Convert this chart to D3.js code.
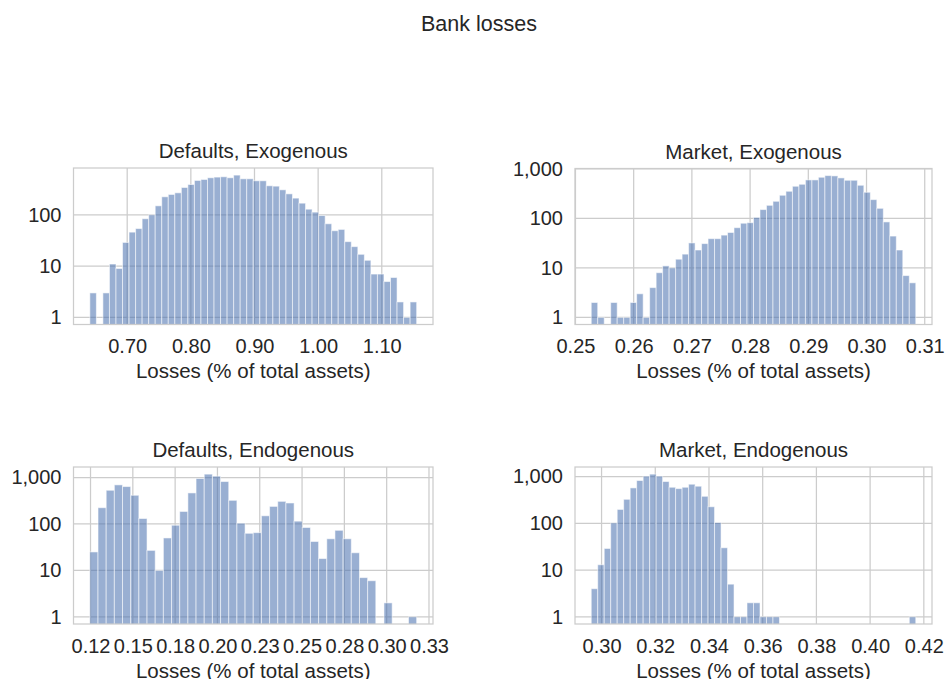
<!DOCTYPE html>
<html>
<head>
<meta charset="utf-8">
<script src="https://cdn.jsdelivr.net/npm/d3@7"></script>
<style>
  body { margin: 0; background: #fff; }
  text { font-family: "Liberation Sans", Arial, sans-serif; fill: #262626; }
</style>
</head>
<body>
<svg id="chart" width="947" height="679"></svg>
<script>
// ---------- data (histogram counts per bin) ----------
const defExoStart = 0.6413, defExoWidth = 0.01027;
const defExoCounts = [3,0,3,11,9,29,46,54,84,100,150,225,250,269,342,391,469,490,529,545,
  553,529,596,505,505,462,462,369,363,308,257,212,169,129,113,97,67,49,52,30,
  24,17,13,7,7,5,6,2,1,2];

const mktExoStart = 0.25271, mktExoWidth = 0.001115;
const mktExoCounts = [2,1,0,2,1,1,2,3,1,4,8,11,10,15,19,32,23,31,39,39,
  46,52,65,80,82,105,151,184,222,294,354,447,490,600,600,679,734,724,659,591,
  591,468,338,240,160,85,44,23,7,5];

const defEndoStart = 0.1246, defEndoWidth = 0.004828;
const defEndoCounts = [25,224,532,695,639,415,131,27,10,50,94,186,466,953,1183,1071,820,323,104,63,
  65,150,239,307,283,115,84,42,18,48,73,48,24,7,6,0,2,0,0,1];

const mktEndoStart = 0.29615, mktEndoWidth = 0.002417;
const mktEndoCounts = [4,13,29,102,198,326,571,822,1019,1125,1019,782,590,552,590,685,621,378,226,104,
  30,5,1,1,2,2,1,1,1,0,0,0,0,0,0,0,0,0,0,0,0,0,0,0,0,0,0,0,0,1];

const titles = ["Defaults, Exogenous", "Market, Exogenous", "Defaults, Endogenous", "Market, Endogenous"];
const suptitle = "Bank losses";
const xLabel = "Losses (% of total assets)";

const defExoTicks = [0.70, 0.80, 0.90, 1.00, 1.10];
const defExoTickLabels = ["0.70", "0.80", "0.90", "1.00", "1.10"];
const mktExoTicks = [0.25, 0.26, 0.27, 0.28, 0.29, 0.30, 0.31];
const mktExoTickLabels = ["0.25", "0.26", "0.27", "0.28", "0.29", "0.30", "0.31"];
const defEndoTicks = [0.125, 0.15, 0.175, 0.2, 0.225, 0.25, 0.275, 0.3, 0.325];
const defEndoTickLabels = ["0.12", "0.15", "0.18", "0.20", "0.23", "0.25", "0.28", "0.30", "0.33"];
const mktEndoTicks = [0.30, 0.32, 0.34, 0.36, 0.38, 0.40, 0.42];
const mktEndoTickLabels = ["0.30", "0.32", "0.34", "0.36", "0.38", "0.40", "0.42"];

const yTicks = [1, 10, 100, 1000];
const yTickLabels = ["1", "10", "100", "1,000"];

// ---------- layout ----------
const svg = d3.select("#chart");
svg.append("rect").attr("width", 947).attr("height", 679).attr("fill", "#fff");

const boxes = [
  {x0: 73.5, x1: 433, y0: 168, y1: 324.5},
  {x0: 575, x1: 932, y0: 168.5, y1: 324.5},
  {x0: 73.5, x1: 433, y0: 467, y1: 624},
  {x0: 575, x1: 932, y0: 467, y1: 624}
];

const panels = [
  {start: defExoStart, width: defExoWidth, counts: defExoCounts, ticks: defExoTicks, labels: defExoTickLabels},
  {start: mktExoStart, width: mktExoWidth, counts: mktExoCounts, ticks: mktExoTicks, labels: mktExoTickLabels},
  {start: defEndoStart, width: defEndoWidth, counts: defEndoCounts, ticks: defEndoTicks, labels: defEndoTickLabels},
  {start: mktEndoStart, width: mktEndoWidth, counts: mktEndoCounts, ticks: mktEndoTicks, labels: mktEndoTickLabels}
];

const gridColor = "#cccccc";
const barColor = "#4c72b0";
const tickFont = "20px";

svg.append("text")
  .attr("x", 479).attr("y", 31)
  .attr("text-anchor", "middle")
  .style("font-size", "21.5px")
  .text(suptitle);

panels.forEach((p, i) => {
  const b = boxes[i];
  const n = p.counts.length;
  const lo = p.start, hi = p.start + n * p.width;
  const xm = (hi - lo) * 0.05;
  const x = d3.scaleLinear().domain([lo - xm, hi + xm]).range([b.x0, b.x1]);
  const L = Math.log10(d3.max(p.counts));
  const y = d3.scaleLog().domain([Math.pow(10, -0.05 * L), Math.pow(10, 1.05 * L)]).range([b.y1, b.y0]);

  const g = svg.append("g");

  const clipId = "clip" + i;
  svg.append("clipPath").attr("id", clipId)
    .append("rect").attr("x", b.x0).attr("y", b.y0).attr("width", b.x1 - b.x0).attr("height", b.y1 - b.y0);

  // grid
  const yt = yTicks.filter(v => y(v) >= b.y0 - 0.5 && y(v) <= b.y1);
  g.append("g").selectAll("line").data(p.ticks).join("line")
    .attr("x1", d => x(d)).attr("x2", d => x(d))
    .attr("y1", b.y0).attr("y2", b.y1)
    .attr("stroke", gridColor).attr("stroke-width", 1.25);
  g.append("g").selectAll("line").data(yt).join("line")
    .attr("x1", b.x0).attr("x2", b.x1)
    .attr("y1", d => y(d)).attr("y2", d => y(d))
    .attr("stroke", gridColor).attr("stroke-width", 1.25);

  // bars
  const bins = p.counts.map((c, k) => ({x0: p.start + k * p.width, x1: p.start + (k + 1) * p.width, c}))
    .filter(d => d.c > 0);
  g.append("g").attr("clip-path", `url(#${clipId})`)
    .selectAll("rect").data(bins).join("rect")
    .attr("x", d => x(d.x0))
    .attr("width", d => x(d.x1) - x(d.x0))
    .attr("y", d => y(d.c))
    .attr("height", d => b.y1 + 2 - y(d.c))
    .attr("fill", barColor).attr("fill-opacity", 0.57)
    .attr("stroke", "#ffffff").attr("stroke-opacity", 0.55).attr("stroke-width", 1);

  // spines
  g.append("rect")
    .attr("x", b.x0).attr("y", b.y0).attr("width", b.x1 - b.x0).attr("height", b.y1 - b.y0)
    .attr("fill", "none").attr("stroke", gridColor).attr("stroke-width", 1.25);

  // axes
  const xAxis = d3.axisBottom(x).tickValues(p.ticks)
    .tickFormat((d, k) => p.labels[k]).tickSize(0).tickPadding(14.3);
  const gx = g.append("g").attr("transform", `translate(0,${b.y1})`).call(xAxis);
  gx.select(".domain").remove();
  gx.selectAll("text").style("font-size", tickFont).style("font-family", "Liberation Sans, Arial, sans-serif").attr("fill", "#262626");

  const yAxis = d3.axisLeft(y).tickValues(yt)
    .tickFormat(d => yTickLabels[yTicks.indexOf(d)]).tickSize(0).tickPadding(12);
  const gy = g.append("g").attr("transform", `translate(${b.x0},0)`).call(yAxis);
  gy.select(".domain").remove();
  gy.selectAll("text").style("font-size", tickFont).style("font-family", "Liberation Sans, Arial, sans-serif").attr("fill", "#262626");

  // titles
  g.append("text")
    .attr("x", (b.x0 + b.x1) / 2).attr("y", b.y0 - 10)
    .attr("text-anchor", "middle").style("font-size", "20.5px")
    .text(titles[i]);
  g.append("text")
    .attr("x", (b.x0 + b.x1) / 2).attr("y", b.y1 + 53.5)
    .attr("text-anchor", "middle").style("font-size", "20.5px")
    .text(xLabel);
});
</script>
</body>
</html>
